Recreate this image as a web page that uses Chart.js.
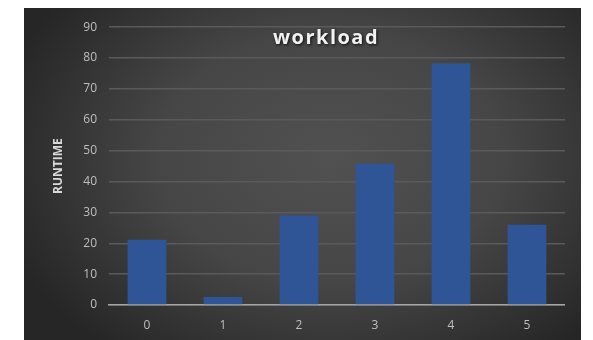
<!DOCTYPE html>
<html>
<head>
  <script src="https://cdn.jsdelivr.net/npm/chart.js"></script>
  <style>
    body { margin: 0; background: #ffffff; }
    #wrap {
      position: absolute; left: 24px; top: 8px; width: 557px; height: 332px;
      background: radial-gradient(ellipse 62% 75% at 55% 45%, #515151 0%, #464646 50%, #262626 100%);
    }
    #inner { position: absolute; left: 0; top: 0; width: 541px; height: 332px; }
  </style>
</head>
<body>
  <div id="wrap"><div id="inner"><canvas id="barChart"></canvas></div></div>

  <script>
    // data
    var categories = ['0', '1', '2', '3', '4', '5'];
    var runtime = [21.1, 2.6, 29.0, 45.8, 78.3, 26.0];
    var yTicks = [0, 10, 20, 30, 40, 50, 60, 70, 80, 90];

    // title drawn over the plot, like the original
    var overlayTitle = {
      id: 'overlayTitle',
      afterDraw: function(chart) {
        var ctx = chart.ctx;
        ctx.save();
        ctx.font = 'bold 20px "Open Sans"';
        ctx.letterSpacing = '1.5px';
        ctx.textAlign = 'center';
        ctx.textBaseline = 'alphabetic';
        ctx.shadowColor = 'rgba(0,0,0,0.8)';
        ctx.shadowBlur = 3;
        ctx.shadowOffsetX = 1;
        ctx.shadowOffsetY = 1;
        ctx.fillStyle = '#f2f2f2';
        ctx.fillText('workload', 302, 36);
        ctx.restore();
      }
    };

    var config = {
      type: 'bar',
      data: {
        labels: categories,
        datasets: [{
          label: 'RUNTIME',
          data: runtime,
          backgroundColor: '#2f5597',
          borderWidth: 0,
          categoryPercentage: 1.0,
          barPercentage: 0.51
        }]
      },
      options: {
        responsive: true,
        maintainAspectRatio: false,
        animation: false,
        layout: { padding: { left: 23, right: 0, top: 12, bottom: 0 } },
        plugins: {
          legend: { display: false },
          tooltip: { enabled: false }
        },
        scales: {
          x: {
            grid: { display: false, drawTicks: false },
            border: { color: '#a6a6a6', width: 1.5 },
            ticks: { color: '#bfbfbf', font: { family: 'Open Sans', size: 12 }, padding: 13 },
            afterFit: function(s) { s.height = 35; }
          },
          y: {
            min: 0,
            max: 90,
            afterBuildTicks: function(s) { s.ticks = yTicks.map(function(v) { return { value: v }; }); },
            grid: { color: '#5a5a5a', lineWidth: 1.5, drawTicks: false },
            border: { display: false },
            ticks: { color: '#bfbfbf', font: { family: 'Open Sans', size: 12 }, padding: 12 },
            title: {
              display: true,
              text: 'RUNTIME',
              color: '#d9d9d9',
              font: { family: 'Open Sans', size: 12, weight: 'bold' }
            },
            afterFit: function(s) { s.width = 62; }
          }
        }
      },
      plugins: [overlayTitle]
    };

    var ctx = document.getElementById('barChart').getContext('2d');
    new Chart(ctx, config);
  </script>
</body>
</html>
